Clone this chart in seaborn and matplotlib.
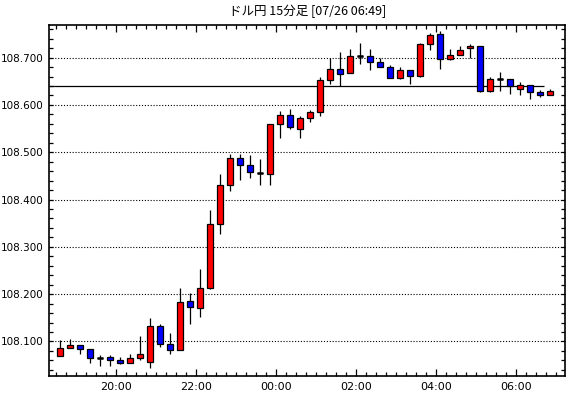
import matplotlib
matplotlib.use("Agg")
import matplotlib.pyplot as plt
import seaborn as sns
import numpy as np
import pandas as pd
from matplotlib.ticker import MultipleLocator, FixedLocator, FormatStrFormatter

title = "ドル円 15分足 [07/26 06:49]"

opens = [108.070, 108.086, 108.092, 108.084, 108.065, 108.067, 108.060, 108.054, 108.065, 108.057,
         108.132, 108.094, 108.081, 108.186, 108.170, 108.212, 108.348, 108.430, 108.487, 108.474,
         108.457, 108.455, 108.559, 108.578, 108.550, 108.572, 108.586, 108.652, 108.677, 108.667,
         108.703, 108.703, 108.690, 108.681, 108.658, 108.673, 108.662, 108.728, 108.749, 108.698,
         108.705, 108.720, 108.724, 108.629, 108.654, 108.654, 108.633, 108.643, 108.627, 108.620]
highs = [108.102, 108.105, 108.092, 108.084, 108.071, 108.071, 108.067, 108.074, 108.112, 108.150,
         108.136, 108.117, 108.213, 108.203, 108.253, 108.378, 108.454, 108.496, 108.496, 108.494,
         108.486, 108.559, 108.587, 108.591, 108.576, 108.589, 108.660, 108.700, 108.712, 108.718,
         108.730, 108.718, 108.700, 108.684, 108.681, 108.673, 108.730, 108.752, 108.756, 108.718,
         108.724, 108.729, 108.724, 108.660, 108.669, 108.654, 108.648, 108.643, 108.631, 108.633]
lows = [108.070, 108.086, 108.074, 108.054, 108.049, 108.049, 108.052, 108.054, 108.060, 108.043,
        108.089, 108.074, 108.081, 108.136, 108.152, 108.210, 108.328, 108.419, 108.442, 108.446,
        108.431, 108.431, 108.531, 108.550, 108.531, 108.563, 108.577, 108.645, 108.639, 108.667,
        108.687, 108.674, 108.681, 108.658, 108.655, 108.645, 108.660, 108.717, 108.676, 108.696,
        108.705, 108.700, 108.627, 108.627, 108.629, 108.624, 108.620, 108.612, 108.616, 108.620]
closes = [108.086, 108.092, 108.084, 108.065, 108.065, 108.060, 108.054, 108.065, 108.074, 108.132,
          108.094, 108.081, 108.184, 108.172, 108.212, 108.348, 108.430, 108.487, 108.474, 108.458,
          108.457, 108.559, 108.578, 108.553, 108.572, 108.586, 108.652, 108.677, 108.666, 108.703,
          108.703, 108.690, 108.681, 108.658, 108.673, 108.662, 108.728, 108.747, 108.698, 108.705,
          108.717, 108.724, 108.629, 108.654, 108.654, 108.639, 108.643, 108.627, 108.620, 108.629]

x_tick_labels = ["20:00", "22:00", "00:00", "02:00", "04:00", "06:00"]
first_label_slot = 5.57   # candle-slot position of the 20:00 label
slots_per_label = 8
ref_line = 108.639
ref_line_end = 48.4
y_min, y_max = 108.028, 108.769

sns.set_theme(style="white")
plt.rcParams['font.family'] = ['DejaVu Sans']

df = pd.DataFrame(dict(open=opens, high=highs, low=lows, close=closes))
df["i"] = np.arange(len(df))
df["bottom"] = df[["open", "close"]].min(axis=1)
df["height"] = (df["close"] - df["open"]).abs()

fig = plt.figure(figsize=(5.7, 3.98), dpi=100)
fig.patch.set_facecolor("white")
x0, x1, ytop, ybot = 49.3, 565, 25, 375.5
ax = fig.add_axes([x0 / 570, 1 - ybot / 398, (x1 - x0) / 570, (ybot - ytop) / 398])
ax.set_facecolor("white")

xlim = (-1.1, 50.47)
# grid lines
for v in np.arange(108.1, 108.75, 0.1):
    ax.axhline(v, color="black", lw=0.8, ls=(0, (1, 1.6)), zorder=1)
ax.hlines(ref_line, xlim[0], ref_line_end, color="black", lw=0.9, zorder=1)

# wicks
ax.vlines(df["i"], df["low"], df["high"], color="black", lw=0.9, zorder=2)

colors = np.where(df["close"] > df["open"], "#ff0000",
                  np.where(df["close"] < df["open"], "#0000ff", "black"))
ax.bar(df["i"], df["height"], bottom=df["bottom"], width=0.62, color=colors,
       edgecolor="black", linewidth=0.9, zorder=3)
doji = df[df["height"] == 0]
ax.hlines(doji["open"], doji["i"] - 0.31, doji["i"] + 0.31, color="black", lw=1.8, zorder=4)

ax.set_xlim(*xlim)
ax.set_ylim(y_min, y_max)

major_x = [first_label_slot + slots_per_label * k for k in range(len(x_tick_labels))]
ax.xaxis.set_major_locator(FixedLocator(major_x))
ax.set_xticklabels(x_tick_labels)
minor_x = [first_label_slot + k for k in range(-6, 45)]
ax.xaxis.set_minor_locator(FixedLocator(minor_x))

ax.yaxis.set_major_locator(MultipleLocator(0.1))
ax.yaxis.set_minor_locator(MultipleLocator(0.02))
ax.yaxis.set_major_formatter(FormatStrFormatter("%.3f"))

ax.tick_params(which="both", direction="in", top=True, right=True, bottom=True, left=True,
               color="black", width=0.9, labelsize=7.5, labelcolor="black")
ax.tick_params(axis="x", which="major", length=5, pad=5, labelsize=8)
ax.tick_params(axis="x", which="minor", length=3)
ax.tick_params(axis="y", which="both", length=3, pad=4)

for s in ax.spines.values():
    s.set_visible(True)
    s.set_color("black")
    s.set_linewidth(1.2)

fig.text((x0 + x1) / 2 / 570, 1 - 11 / 398, title, ha="center", va="center", fontsize=9,
         family=["Noto Sans CJK JP", "DejaVu Sans"], color="black")

fig.savefig("out.png", dpi=100, facecolor="white")
